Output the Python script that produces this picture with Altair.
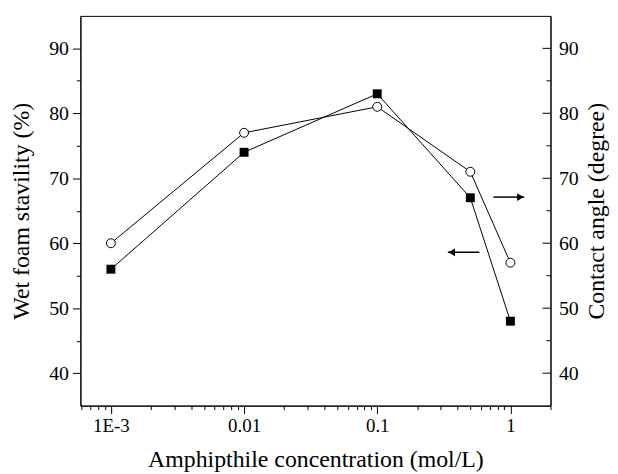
import altair as alt
import pandas as pd

# ---- data ----
conc = [0.001, 0.01, 0.1, 0.5, 1.0]
foam_stability = [56, 74, 83, 67, 48]      # filled squares, left axis
contact_angle = [60, 77, 81, 71, 57]       # open circles, right axis

# arrows (annotation): start x, tip x, head centre x, y on left scale
arrow_start = [0.585, 0.745]
arrow_tip = [0.339, 1.27]
arrow_head = [0.362, 1.19]
arrow_y = [58.6, 67.1]
arrow_shape = ["triangle-left", "triangle-right"]

x_tick_values = [0.0006, 0.0007, 0.0008, 0.0009,
                 0.001, 0.002, 0.003, 0.004, 0.005, 0.006, 0.007, 0.008, 0.009,
                 0.01, 0.02, 0.03, 0.04, 0.05, 0.06, 0.07, 0.08, 0.09,
                 0.1, 0.2, 0.3, 0.4, 0.5, 0.6, 0.7, 0.8, 0.9,
                 1.0, 2.0]
y_tick_values = [40, 45, 50, 55, 60, 65, 70, 75, 80, 85, 90]
y_major = [40, 50, 60, 70, 80, 90]
y_minor = [45, 55, 65, 75, 85]

W, H = 474, 393
FONT = "Liberation Serif, 'Times New Roman', Times, 'DejaVu Serif', serif"

foam_df = pd.DataFrame({"x": conc, "y": foam_stability})
angle_df = pd.DataFrame({"x": conc, "y": contact_angle})
arrow_df = pd.DataFrame({"x": arrow_start, "x2": arrow_tip, "xh": arrow_head,
                         "y": arrow_y, "shape": arrow_shape})
rmaj_df = pd.DataFrame({"y": y_major})
rmin_df = pd.DataFrame({"y": y_minor})

xscale = alt.Scale(type="log", domain=[0.00059, 2.0], nice=False)
yscale = alt.Scale(domain=[35, 95], nice=False, zero=False)

common = dict(labelFont=FONT, titleFont=FONT, labelColor="black", titleColor="black",
              titleFontWeight="normal", domainColor="black", tickColor="black",
              domainWidth=1, tickWidth=1, grid=False, labelOverlap=False)

xaxis = alt.Axis(
    values=x_tick_values,
    title="Amphipthile concentration (mol/L)",
    labelExpr="datum.value == 0.001 ? '1E-3' : (datum.value == 0.01 ? '0.01' : (datum.value == 0.1 ? '0.1' : (datum.value == 1 ? '1' : '')))",
    tickSize={"condition": {"test": "indexof([0.001, 0.01, 0.1, 1], datum.value) >= 0", "value": 8}, "value": 4},
    labelFlush=False, labelBound=False, labelPadding=3,
    labelFontSize=19, titleFontSize=24,
    titleY=61, titleBaseline="alphabetic", titleAnchor="middle",
    **common,
)
yaxis_left = alt.Axis(
    values=y_tick_values,
    title="Wet foam stavility (%)",
    labelExpr="datum.value % 10 == 0 ? datum.label : ''",
    tickSize={"condition": {"test": "datum.value % 10 == 0", "value": 8}, "value": 4},
    labelPadding=4, orient="left",
    labelFontSize=20, titleFontSize=24,
    titleX=-52, titleBaseline="alphabetic", titleAngle=270,
    **common,
)
yaxis_right = alt.Axis(
    values=y_major,
    title="Contact angle (degree)",
    ticks=False, labelPadding=8, orient="right",
    labelFontSize=20, titleFontSize=24,
    titleX=53, titleBaseline="alphabetic", titleAngle=270,
    **common,
)

def xenc():
    return alt.X("x:Q", scale=xscale, axis=xaxis)

def yl():
    return alt.Y("y:Q", scale=yscale, axis=yaxis_left)

def yr():
    return alt.Y("y:Q", scale=yscale, axis=yaxis_right)

foam_line = alt.Chart(foam_df).mark_line(color="black", strokeWidth=1).encode(x=xenc(), y=yl())
foam_pts = alt.Chart(foam_df).mark_point(shape="square", filled=True, size=81, color="black", opacity=1).encode(x=xenc(), y=yl())
arrow_lines = alt.Chart(arrow_df).mark_rule(color="black", strokeWidth=1.5).encode(x=xenc(), x2="x2:Q", y=yl())
arrow_heads = alt.Chart(arrow_df).mark_point(filled=True, size=60, color="black", opacity=1).encode(
    x=alt.X("xh:Q", scale=xscale, axis=xaxis), y=yl(),
    shape=alt.Shape("shape:N", scale=None))

left = alt.layer(foam_line, foam_pts, arrow_lines, arrow_heads)

angle_line = alt.Chart(angle_df).mark_line(color="black", strokeWidth=1).encode(x=xenc(), y=yr())
angle_pts = alt.Chart(angle_df).mark_point(shape="circle", filled=False, fill="white", size=81,
                                           color="black", strokeWidth=1, opacity=1).encode(x=xenc(), y=yr())
rt_major = alt.Chart(rmaj_df).mark_rule(color="black", strokeWidth=1).encode(
    x=alt.value(W - 8), x2=alt.value(W), y=yr())
rt_minor = alt.Chart(rmin_df).mark_rule(color="black", strokeWidth=1).encode(
    x=alt.value(W - 4), x2=alt.value(W), y=yr())

right = alt.layer(angle_line, angle_pts, rt_major, rt_minor)

chart = alt.layer(left, right).resolve_scale(y="independent").properties(
    width=W, height=H,
    autosize=alt.AutoSizeParams(type="none"),
    padding={"left": 73, "top": 6, "right": 60, "bottom": 66},
).configure(
    font=FONT,
).configure_view(
    stroke="black", strokeWidth=1,
)

chart.save("out.html", embed_options={"renderer": "svg", "actions": False})
